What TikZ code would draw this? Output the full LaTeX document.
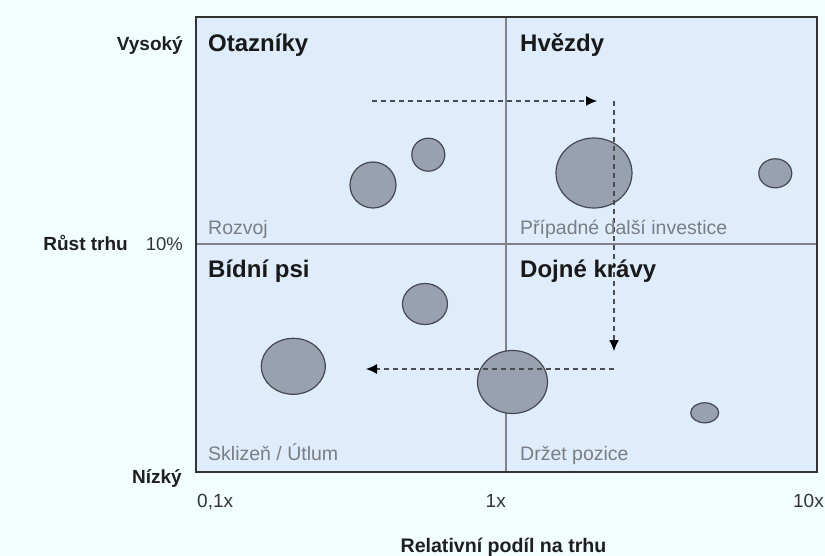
\documentclass[tikz,border=0pt]{standalone}
\usepackage{fontspec}
\setmainfont{Liberation Sans}
\usetikzlibrary{shapes.geometric,arrows.meta}
\definecolor{bgcol}{HTML}{F2FDFF}
\definecolor{boxcol}{HTML}{DEECFC}
\definecolor{framecol}{HTML}{333333}
\definecolor{midcol}{HTML}{7F8288}
\definecolor{bubcol}{HTML}{99A0AF}
\definecolor{bubline}{HTML}{454850}
\definecolor{graytext}{HTML}{7A7D82}
\definecolor{dashcol}{HTML}{4A4C50}
\tikzset{
  bubble/.style={ellipse, draw=bubline, line width=1.2pt, fill=bubcol, inner sep=0pt},
  quadtitle/.style={anchor=base west, inner sep=0pt, font=\fontsize{24}{26}\selectfont\bfseries, text=black!90},
  quadnote/.style={anchor=base west, inner sep=0pt, font=\fontsize{19.5}{22}\selectfont, text=graytext},
  axislab/.style={inner sep=0pt, font=\fontsize{19}{22}\selectfont\bfseries, text=black!88},
  ticklab/.style={inner sep=0pt, font=\fontsize{19}{22}\selectfont, text=black!80},
  flow/.style={dashcol, line width=1.1pt, dash pattern=on 5pt off 4pt, -{Latex[length=11pt,width=10pt,fill=black,color=black]}},
}
\begin{document}
\begin{tikzpicture}[x=1pt,y=-1pt]
\fill[bgcol] (0,0) rectangle (825,556);
\useasboundingbox (0,0) rectangle (825,556);
% box
\fill[boxcol] (196,17) rectangle (817,472);
\draw[midcol, line width=1.4pt] (506,17) -- (506,472);
\draw[midcol, line width=1.4pt] (196,244) -- (817,244);
% bubbles
\node[bubble, minimum width=46pt, minimum height=46pt] (b1) at (373,185) {};
\node[bubble, minimum width=33pt, minimum height=33pt] (b2) at (428.3,154.7) {};
\node[bubble, minimum width=76pt, minimum height=70pt] (b3) at (594,173) {};
\node[bubble, minimum width=33pt, minimum height=29pt] (b4) at (775.3,173.3) {};
\node[bubble, minimum width=45pt, minimum height=41pt] (b5) at (425,304) {};
\node[bubble, minimum width=64pt, minimum height=56pt] (b6) at (293.3,366.3) {};
\node[bubble, minimum width=70pt, minimum height=63pt] (b7) at (512.5,382) {};
\node[bubble, minimum width=28pt, minimum height=20pt] (b8) at (704.7,412.8) {};
% frame
\draw[framecol, line width=2.2pt] (196,17) rectangle (817,472);
% flow arrows
\coordinate (p1) at (372,101);
\coordinate (p2) at (597,101);
\coordinate (p3) at (614,101);
\coordinate (p4) at (614,351);
\coordinate (p5) at (614,369);
\coordinate (p6) at (366,369);
\draw[flow] (p1) -- (p2);
\draw[flow] (p3) -- (p4);
\draw[flow] (p5) -- (p6);
% quadrant titles
\node[quadtitle] (t1) at (208,52) {Otazníky};
\node[quadtitle] (t2) at (520,52) {Hvězdy};
\node[quadtitle] (t3) at (208,278) {Bídní psi};
\node[quadtitle] (t4) at (520,278) {Dojné krávy};
% quadrant notes
\node[quadnote] (n1) at (208,234.5) {Rozvoj};
\node[quadnote] (n2) at (520,234.5) {Případné další investice};
\node[quadnote] (n3) at (208,460.5) {Sklizeň / Útlum};
\node[quadnote] (n4) at (520,460.5) {Držet pozice};
% axis labels
\node[axislab, anchor=base east] (vy) at (183,51) {Vysoký};
\node[axislab, anchor=base east] (rt) at (128,251) {Růst trhu};
\node[ticklab, anchor=base east, font=\fontsize{18.5}{22}\selectfont] (p10) at (183,251) {10\%};
\node[axislab, anchor=base east] (nz) at (182,483) {Nízký};
\node[ticklab, anchor=base west] (x1) at (197,507) {0,1x};
\node[ticklab, anchor=base east] (x2) at (506,507) {1x};
\node[ticklab, anchor=base east] (x3) at (824,507) {10x};
\node[axislab, anchor=base, font=\fontsize{19.6}{22}\selectfont\bfseries] (xl) at (503.5,552.5) {Relativní podíl na trhu};
\end{tikzpicture}
\end{document}
